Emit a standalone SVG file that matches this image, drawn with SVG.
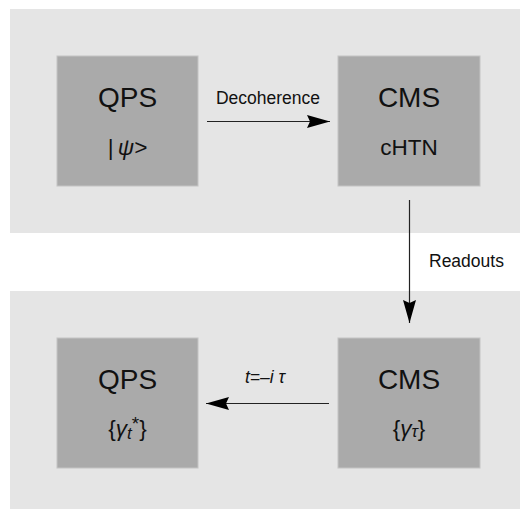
<svg xmlns="http://www.w3.org/2000/svg" width="520" height="509" viewBox="0 0 520 509">
  <defs>
    <style>
      .panel { fill: #e5e5e5; }
      .box { fill: #aaaaaa; stroke: #c4c4c4; stroke-width: 1; }
      .title { font-family: "Liberation Sans", Arial, sans-serif; font-size: 28px; fill: #111; text-anchor: middle; }
      .sub { font-family: "Liberation Sans", Arial, sans-serif; font-size: 22.5px; fill: #111; text-anchor: middle; }
      .lbl { font-family: "Liberation Sans", Arial, sans-serif; font-size: 17.5px; fill: #111; }
      .it { font-style: italic; }
      .edge { stroke: #222; stroke-width: 1.2; fill: none; marker-end: url(#head); }
    </style>
    <marker id="head" viewBox="0 0 23 13" refX="23" refY="6.5" markerWidth="23" markerHeight="13" markerUnits="userSpaceOnUse" orient="auto">
      <path d="M0,0 L23,6.5 L0,13 L3,6.5 Z" fill="#000"/>
    </marker>
  </defs>

  <!-- panels -->
  <rect class="panel" x="10" y="9" width="510" height="224"/>
  <rect class="panel" x="10" y="291" width="510" height="218"/>

  <!-- connectors -->
  <g id="connectors">
    <line class="edge" x1="207" y1="121.5" x2="330" y2="121.5"/>
    <line class="edge" x1="409.5" y1="200" x2="409.5" y2="323"/>
    <line class="edge" x1="329" y1="403.5" x2="206" y2="403.5"/>
    <text class="lbl" x="268" y="104" text-anchor="middle">Decoherence</text>
    <text class="lbl" x="429" y="267">Readouts</text>
    <text class="lbl it" x="265" y="383" text-anchor="middle" font-size="18.5">t=–i τ</text>
  </g>

  <!-- top row -->
  <g id="qps-top">
    <rect class="box" x="57" y="56" width="141" height="130"/>
    <text class="title" x="127.5" y="107">QPS</text>
    <text class="sub" x="127.5" y="155">|<tspan class="it" dx="4">ψ&gt;</tspan></text>
  </g>
  <g id="cms-top">
    <rect class="box" x="338" y="56" width="142" height="130"/>
    <text class="title" x="409" y="107">CMS</text>
    <text class="sub" x="409" y="155">cHTN</text>
  </g>

  <!-- bottom row -->
  <g id="qps-bottom">
    <rect class="box" x="57" y="338" width="141" height="130"/>
    <text class="title" x="127.5" y="389">QPS</text>
    <text class="sub" x="127.5" y="436">{<tspan class="it">γ</tspan><tspan class="it" font-size="17" dy="3">t</tspan><tspan font-size="19" dy="-9">*</tspan><tspan dy="6">}</tspan></text>
  </g>
  <g id="cms-bottom">
    <rect class="box" x="338" y="338" width="142" height="130"/>
    <text class="title" x="409" y="389">CMS</text>
    <text class="sub" x="409" y="436">{<tspan class="it">γ</tspan><tspan class="it" font-size="17" dy="1">τ</tspan><tspan dy="-1">}</tspan></text>
  </g>
</svg>
